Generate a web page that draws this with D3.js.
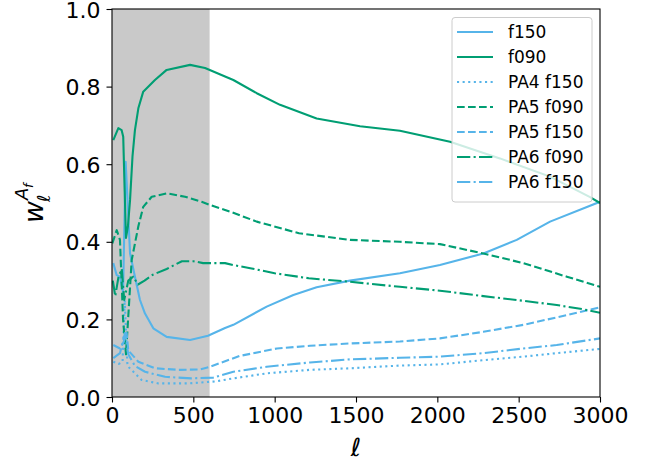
<!DOCTYPE html>
<html><head><meta charset="utf-8">
<script src="https://cdn.jsdelivr.net/npm/d3@7"></script>
<style>body{margin:0;background:#fff}svg{display:block}text{font-family:"DejaVu Sans",sans-serif}</style>
</head><body><svg id="c" width="659" height="465"></svg>
<script>
// ---- data ----
const seriesNames = ["f150","f090","PA4 f150","PA5 f090","PA5 f150","PA6 f090","PA6 f150"];
const f150_l = [8, 29, 49, 68, 84, 111, 141, 172, 203, 254, 336, 480, 590, 695, 746, 951, 1115, 1258, 1463, 1770, 2016, 2283, 2488, 2693, 3000];
const f150_w = [0.345, 0.314, 0.31, 0.27, 0.606, 0.37, 0.31, 0.25, 0.215, 0.177, 0.155, 0.147, 0.158, 0.178, 0.186, 0.233, 0.263, 0.283, 0.30, 0.319, 0.34, 0.37, 0.405, 0.452, 0.503];
const f090_l = [8, 39, 59, 69, 78, 86, 98, 111, 126, 141, 162, 192, 264, 336, 480, 572, 695, 746, 890, 1033, 1258, 1525, 1770, 2078, 2385, 2693, 2939, 3000];
const f090_w = [0.662, 0.693, 0.688, 0.671, 0.53, 0.41, 0.44, 0.508, 0.62, 0.688, 0.744, 0.787, 0.817, 0.843, 0.856, 0.848, 0.826, 0.817, 0.783, 0.753, 0.718, 0.698, 0.686, 0.658, 0.615, 0.568, 0.515, 0.50];
const pa4f150_l = [8, 40, 65, 78, 95, 182, 285, 469, 633, 746, 951, 1217, 1463, 1770, 2016, 2283, 2529, 2734, 3000];
const pa4f150_w = [0.091, 0.085, 0.09, 0.25, 0.08, 0.044, 0.035, 0.035, 0.04, 0.048, 0.061, 0.07, 0.074, 0.081, 0.084, 0.095, 0.104, 0.113, 0.124];
const pa5f090_l = [2, 29, 49, 68, 86, 121, 162, 192, 244, 336, 449, 551, 602, 725, 890, 1150, 1463, 1770, 2016, 2283, 2529, 2796, 3000];
const pa5f090_w = [0.396, 0.43, 0.405, 0.2, 0.11, 0.353, 0.44, 0.49, 0.516, 0.525, 0.516, 0.503, 0.495, 0.478, 0.452, 0.422, 0.405, 0.40, 0.394, 0.37, 0.345, 0.31, 0.284];
const pa5f150_l = [8, 49, 70, 90, 100, 162, 264, 408, 541, 602, 787, 1014, 1217, 1463, 1770, 2016, 2283, 2529, 2796, 3000];
const pa5f150_w = [0.134, 0.125, 0.14, 0.165, 0.12, 0.091, 0.074, 0.07, 0.071, 0.078, 0.106, 0.125, 0.132, 0.138, 0.143, 0.151, 0.168, 0.186, 0.211, 0.231];
const pa6f090_l = [5, 20, 40, 60, 75, 100, 130, 160, 200, 250, 336, 430, 500, 560, 695, 746, 850, 1000, 1210, 1463, 1770, 2016, 2283, 2529, 2734, 2898, 3000];
const pa6f090_w = [0.30, 0.26, 0.31, 0.33, 0.25, 0.30, 0.31, 0.29, 0.30, 0.315, 0.33, 0.35, 0.35, 0.345, 0.345, 0.34, 0.332, 0.319, 0.306, 0.297, 0.284, 0.274, 0.26, 0.248, 0.237, 0.226, 0.217];
const pa6f150_l = [8, 49, 80, 100, 141, 203, 326, 488, 623, 746, 951, 1217, 1463, 1770, 2016, 2283, 2529, 2734, 3000];
const pa6f150_w = [0.10, 0.113, 0.165, 0.11, 0.08, 0.065, 0.052, 0.048, 0.05, 0.065, 0.078, 0.089, 0.097, 0.101, 0.104, 0.113, 0.125, 0.134, 0.151];
const shadeRange = [0, 600];
const xTicks = [0, 500, 1000, 1500, 2000, 2500, 3000];
const yTicks = [0.0, 0.2, 0.4, 0.6, 0.8, 1.0];

// ---- styles ----
const BLUE = "#56B4E9", GREEN = "#009E73";
const LW = 2.1;
const styles = [
  {c: BLUE, d: null}, {c: GREEN, d: null},
  {c: BLUE, d: [2.1, 3.5]}, {c: GREEN, d: [7.7, 3.3]},
  {c: BLUE, d: [7.7, 3.3]}, {c: GREEN, d: [13.3, 3.3, 2.1, 3.3]},
  {c: BLUE, d: [13.3, 3.3, 2.1, 3.3]}
];
const data = [
  [f150_l, f150_w], [f090_l, f090_w], [pa4f150_l, pa4f150_w],
  [pa5f090_l, pa5f090_w], [pa5f150_l, pa5f150_w],
  [pa6f090_l, pa6f090_w], [pa6f150_l, pa6f150_w]
];

const L = 112, R = 600, T = 9, B = 397;
const svg = d3.select("#c");
const x = d3.scaleLinear().domain([0, 3000]).range([L, R]);
const y = d3.scaleLinear().domain([0, 1]).range([B, T]);

svg.append("defs").append("clipPath").attr("id","clip")
  .append("rect").attr("x",L).attr("y",T).attr("width",R-L).attr("height",B-T);

svg.append("rect").attr("x", x(shadeRange[0])).attr("y", T)
  .attr("width", x(shadeRange[1]) - x(shadeRange[0])).attr("height", B - T)
  .attr("fill", "#c9c9c9");

const line = d3.line().x(d => x(d[0])).y(d => y(d[1]));
const g = svg.append("g").attr("clip-path","url(#clip)");
data.forEach((s, i) => {
  const pts = s[0].map((l, k) => [l, s[1][k]]);
  g.append("path").attr("d", line(pts)).attr("fill","none")
    .attr("stroke", styles[i].c).attr("stroke-width", LW)
    .attr("stroke-dasharray", styles[i].d ? styles[i].d.join(",") : null)
    .attr("stroke-linejoin","round");
});

// axes
const xAxis = d3.axisBottom(x).tickValues(xTicks).tickSize(5.5).tickPadding(5).tickFormat(d3.format("d"));
const yAxis = d3.axisLeft(y).tickValues(yTicks).tickSize(5.5).tickPadding(6).tickFormat(d3.format(".1f"));
const gx = svg.append("g").attr("transform", `translate(0,${B})`).call(xAxis);
const gy = svg.append("g").attr("transform", `translate(${L},0)`).call(yAxis);
[gx, gy].forEach(a => {
  a.select(".domain").remove();
  a.selectAll("line").attr("stroke","#000").attr("stroke-width",1.1);
  a.selectAll("text").attr("font-size", 22).attr("fill","#000").attr("font-family","DejaVu Sans");
});
gy.selectAll("text").attr("dy","0.37em");
svg.append("rect").attr("x",L).attr("y",T).attr("width",R-L).attr("height",B-T)
  .attr("fill","none").attr("stroke","#000").attr("stroke-width",1.1);

// labels
svg.append("text").attr("x", (L+R)/2).attr("y", 456).attr("text-anchor","middle")
  .attr("font-size", 25).attr("font-style","italic").attr("font-weight","normal")
  .attr("font-family","DejaVu Sans").text("ℓ");
const yl = svg.append("text").attr("transform","translate(43,223) rotate(-90)")
  .attr("font-family","DejaVu Sans").attr("font-style","italic");
yl.append("tspan").attr("x",0).attr("y",0).attr("font-size",27).text("w");
yl.append("tspan").attr("x",21).attr("y",7).attr("font-size",18).text("ℓ");
yl.append("tspan").attr("x",23).attr("y",-15).attr("font-size",18).text("A");
yl.append("tspan").attr("x",35).attr("y",-10).attr("font-size",13).text("f");

// legend
const lg = svg.append("g");
lg.append("rect").attr("x",452).attr("y",17.5).attr("width",140).attr("height",184.5)
  .attr("rx",3).attr("fill","#fff").attr("fill-opacity",0.8).attr("stroke","#ccc").attr("stroke-width",1);
seriesNames.forEach((n, i) => {
  const yy = 32 + i * 25;
  lg.append("line").attr("x1",457).attr("x2",493).attr("y1",yy).attr("y2",yy)
    .attr("stroke", styles[i].c).attr("stroke-width", LW)
    .attr("stroke-dasharray", styles[i].d ? styles[i].d.join(",") : null);
  lg.append("text").attr("x",508).attr("y",yy).attr("dy","0.36em")
    .attr("font-size",17).attr("fill","#000").text(n);
});
</script></body></html>
